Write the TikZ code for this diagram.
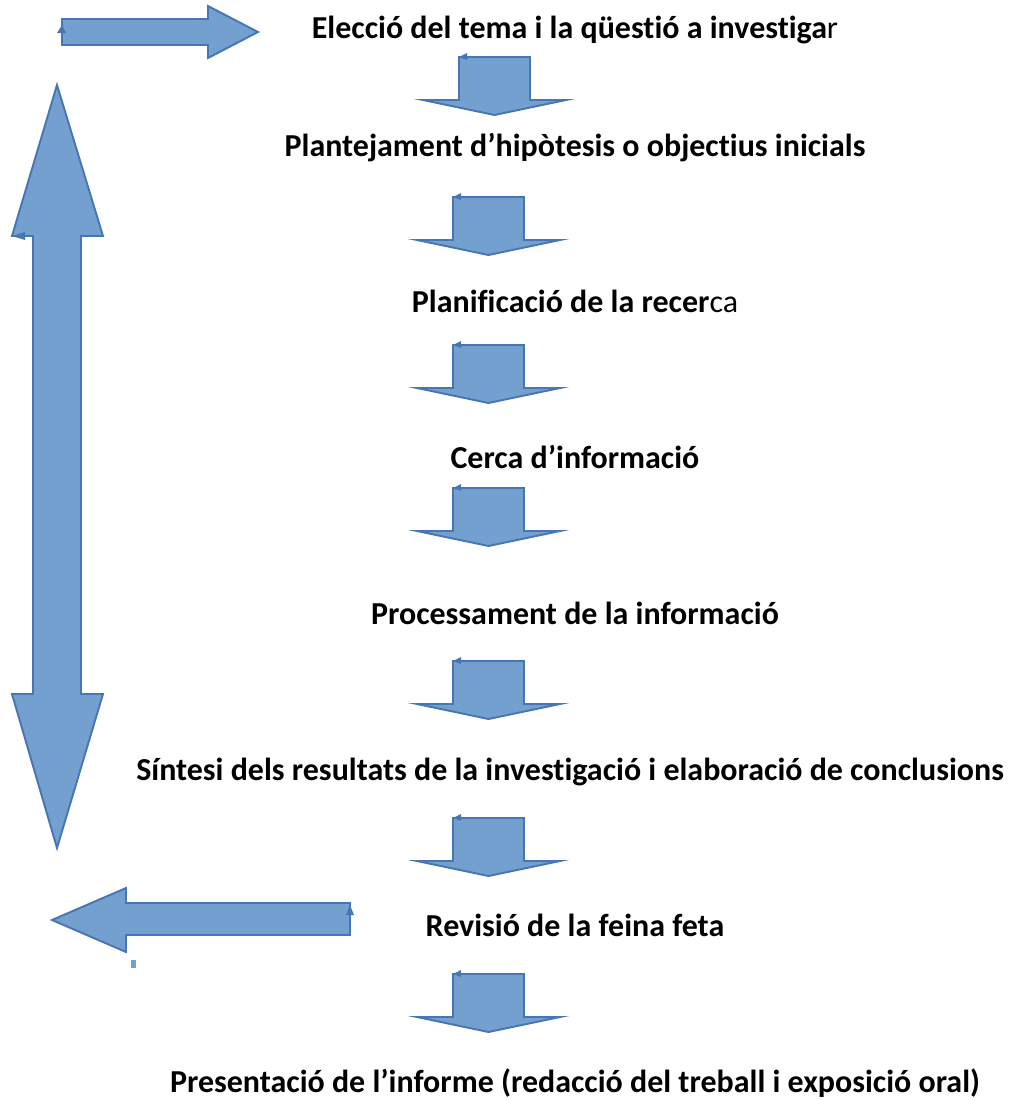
\documentclass[tikz,border=0pt]{standalone}
\usepackage{fontspec}
\setmainfont{Carlito}[Ligatures=NoCommon]
\usetikzlibrary{positioning}

\definecolor{arrfill}{RGB}{116,160,208}
\definecolor{arrline}{RGB}{72,118,180}

\tikzset{
	block/.style={fill=arrfill, draw=arrline, line width=1.1pt, line join=miter},
	notch/.style={fill=arrline, draw=none},
	stage/.style={font=\fontsize{18.2}{22}\selectfont\bfseries, inner sep=0pt,
		text height=12.5pt, text depth=4pt}
}

% block arrow pointing down, #1 = top left corner of its shaft
\newcommand{\downblock}[1]{%
	\draw[block] (#1) -- ++(71,0) -- ++(0,43) -- ++(36,0) -- ++(-71.5,15)
		-- ++(-71.5,-15) -- ++(36,0) -- cycle;
	\fill[notch] (#1) -- ++(8,-4) -- ++(0,7) -- cycle;
}

\begin{document}
\begin{tikzpicture}[x=0.02cm, y=-0.02cm, node distance=3.12cm, on grid]
	\useasboundingbox (0,0) rectangle (1012,1100);

	\node (eleccio) [stage] at (575,31) {Elecció del tema i la qüestió a investiga\textmd{r}};
	\node (plantejament) [stage, below=2.36cm of eleccio] {Plantejament d’hipòtesis o objectius inicials};
	\node (planificacio) [stage, below=of plantejament] {Planificació de la recer\textmd{ca}};
	\node (cerca) [stage, below=of planificacio] {Cerca d’informació};
	\node (processament) [stage, below=of cerca] {Processament de la informació};
	\node (sintesi) [stage, below=of processament, xshift=-0.1cm] {Síntesi dels resultats de la investigació i elaboració de conclusions};
	\node (revisio) [stage, below=of sintesi, xshift=0.1cm] {Revisió de la feina feta};
	\node (presentacio) [stage, below=of revisio] {Presentació de l’informe (redacció del treball i exposició oral)};

	% arrows between the stages
	\coordinate (a1) at (459,57);
	\coordinate (a2) at (453,197);
	\coordinate (a3) at (453,345);
	\coordinate (a4) at (453,488);
	\coordinate (a5) at (453,661);
	\coordinate (a6) at (453,818);
	\coordinate (a7) at (453,974);
	\foreach \a in {a1,a2,a3,a4,a5,a6,a7}
		\downblock{\a};

	% back to the start
	\draw[block] (62,19) -- (208,19) -- (208,6) -- (258,32) -- (208,58) -- (208,45) -- (62,45) -- cycle;
	\fill[notch] (57,33) -- (62,25) -- (66,33) -- cycle;

	\draw[block] (57,85) -- (103,236) -- (81,236) -- (81,694) -- (103,694) -- (57,848)
		-- (12,694) -- (33,694) -- (33,236) -- (12,236) -- cycle;
	\fill[notch] (12,236) -- (25,232) -- (25,240) -- cycle;

	\draw[block] (52,920) -- (126,888) -- (126,903) -- (350,903) -- (350,935) -- (126,935) -- (126,952) -- cycle;
	\fill[notch] (346,915) -- (350,905) -- (354,915) -- cycle;
	\fill[arrfill] (131,960) rectangle (136,968);

\end{tikzpicture}
\end{document}
